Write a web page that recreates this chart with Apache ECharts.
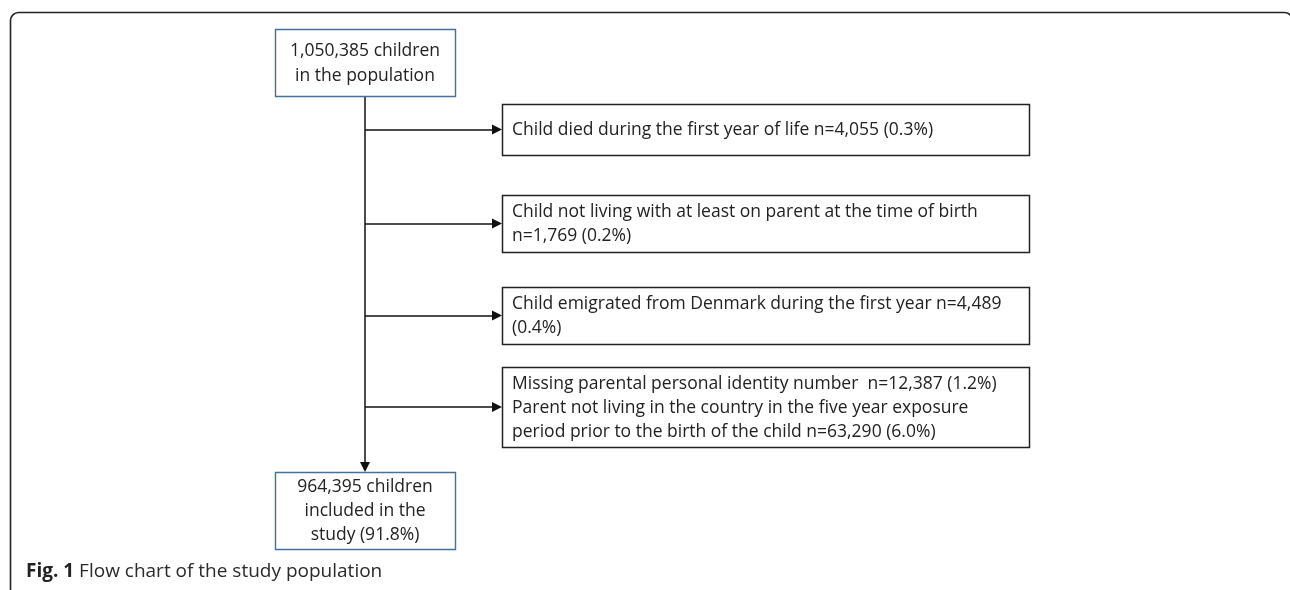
<!DOCTYPE html>
<html>
<head>
<meta charset="utf-8">
<script src="https://cdn.jsdelivr.net/npm/echarts@6/dist/echarts.min.js"></script>
<style>
  html, body { margin: 0; padding: 0; background: #fff; }
  #main { width: 1290px; height: 590px; }
</style>
</head>
<body>
<div id="main"></div>
<script>
// box texts (content of the flow chart)
const totalLines = ['1,050,385 children', 'in the population'];
const excludedLines = [
  ['Child died during the first year of life n=4,055 (0.3%)'],
  ['Child not living with at least on parent at the time of birth', 'n=1,769 (0.2%)'],
  ['Child emigrated from Denmark during the first year n=4,489', '(0.4%)'],
  ['Missing parental personal identity number  n=12,387 (1.2%)',
   'Parent not living in the country in the five year exposure',
   'period prior to the birth of the child n=63,290 (6.0%)']
];
const includedLines = ['964,395 children', 'included in the', 'study (91.8%)'];
const captionBold = 'Fig. 1';
const captionText = 'Flow chart of the study population';

// layout, in page units (axis goes 0..1290 / 0..590)
const mainX = [275, 455];
const topBoxY = [29, 96];
const bottomBoxY = [472, 549];
const sideX = [502, 1029];
const sideY = [[104, 155], [195, 252], [287, 344], [367, 447]];
const spineX = (mainX[0] + mainX[1]) / 2;

const FONT = '"Open Sans", "Liberation Sans", sans-serif';
const blue = '#41719c';

// [x0, y0, x1, y1, kind, index]
let boxes = [];
boxes.push([mainX[0], topBoxY[0], mainX[1], topBoxY[1], 0, 0]);
sideY.forEach(function (y, i) {
  boxes.push([sideX[0], y[0], sideX[1], y[1], 1, i]);
});
boxes.push([mainX[0], bottomBoxY[0], mainX[1], bottomBoxY[1], 2, 0]);

function linesFor(kind, i) {
  if (kind === 0) return totalLines;
  if (kind === 2) return includedLines;
  return excludedLines[i];
}

// connectors
let arrows = [];
arrows.push({ coords: [[spineX, topBoxY[1]], [spineX, bottomBoxY[0] - 5]] });
sideY.forEach(function (y) {
  let mid = (y[0] + y[1]) / 2;
  arrows.push({ coords: [[spineX, mid], [sideX[0] - 5, mid]] });
});

let myChart = echarts.init(document.getElementById('main'));

let option = {
  animation: false,
  title: {
    left: 26,
    top: 562,
    padding: 0,
    text: '{b|' + captionBold + '} ' + captionText,
    textStyle: {
      fontFamily: FONT,
      fontSize: 19,
      fontWeight: 'normal',
      color: '#2a2a2a',
      rich: {
        b: { fontFamily: FONT, fontSize: 19, fontWeight: 'bold', color: '#222' }
      }
    }
  },
  graphic: [{
    type: 'rect',
    left: 8,
    top: 10,
    silent: true,
    shape: { x: 0, y: 0, width: 1282, height: 620, r: 8 },
    style: { fill: 'none', stroke: '#222', lineWidth: 1.6 }
  }],
  grid: { left: 0, right: 0, top: 0, bottom: 0 },
  xAxis: { type: 'value', min: 0, max: 1290, show: false },
  yAxis: { type: 'value', min: 0, max: 590, inverse: true, show: false },
  series: [
    {
      type: 'lines',
      coordinateSystem: 'cartesian2d',
      symbol: ['none', 'triangle'],
      symbolSize: [10, 10],
      lineStyle: { color: '#111', width: 1.5, opacity: 1, curveness: 0 },
      silent: true,
      z: 1,
      data: arrows
    },
    {
      type: 'custom',
      coordinateSystem: 'cartesian2d',
      silent: true,
      z: 2,
      data: boxes,
      renderItem: function (params, api) {
        let p0 = api.coord([api.value(0), api.value(1)]);
        let p1 = api.coord([api.value(2), api.value(3)]);
        let kind = api.value(4);
        let idx = api.value(5);
        let w = p1[0] - p0[0];
        let h = p1[1] - p0[1];
        let side = kind === 1;
        let txt = linesFor(kind, idx).join('\n');
        return {
          type: 'group',
          children: [
            {
              type: 'rect',
              shape: { x: p0[0] + 0.5, y: p0[1] + 0.5, width: w, height: h },
              style: { fill: '#fff', stroke: side ? '#222' : blue, lineWidth: side ? 1.5 : 1.4 }
            },
            {
              type: 'text',
              style: {
                text: txt,
                x: side ? p0[0] + 10 : p0[0] + w / 2,
                y: p0[1] + h / 2 + 1,
                align: side ? 'left' : 'center',
                verticalAlign: 'middle',
                fontFamily: FONT,
                fontSize: 17.5,
                lineHeight: kind === 0 ? 25 : 24,
                fill: '#222'
              }
            }
          ]
        };
      }
    }
  ]
};

myChart.setOption(option);
</script>
</body>
</html>
